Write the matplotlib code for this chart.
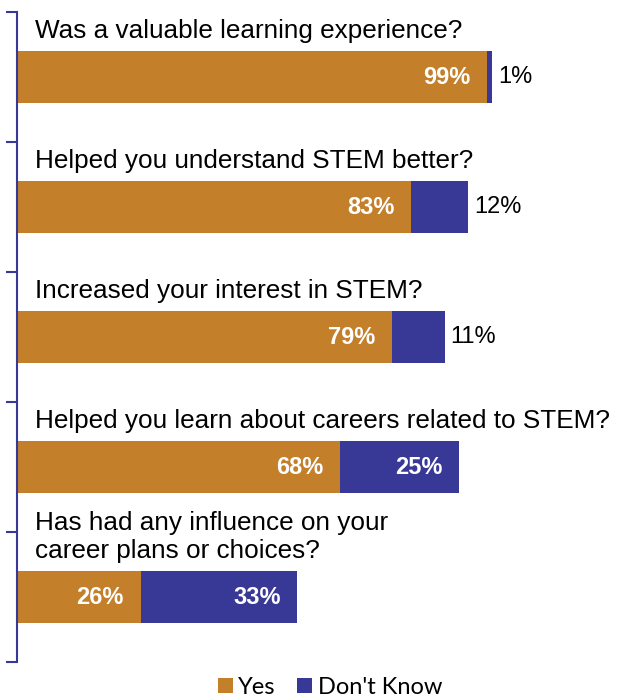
import matplotlib.pyplot as plt
import numpy as np

questions = ["Was a valuable learning experience?",
             "Helped you understand STEM better?",
             "Increased your interest in STEM?",
             "Helped you learn about careers related to STEM?",
             "Has had any influence on your\ncareer plans or choices?"]
yes = [99, 83, 79, 68, 26]
dont_know = [1, 12, 11, 25, 33]

orange = "#C47F2B"
navy = "#383896"

W, H = 618, 698
fig = plt.figure(figsize=(W / 100, H / 100), dpi=100)
# axes: x from px 17 to 617, y from px 12 to 662
ax = fig.add_axes([17 / W, 1 - 662 / H, 600 / W, 650 / H])
ax.set_xlim(0, 600 / 4.75)
ax.set_ylim(5, 0)

pos = np.arange(len(questions)) + 0.5
ax.barh(pos, yes, height=0.4, color=orange, label="Yes")
ax.barh(pos, dont_know, left=yes, height=0.4, color=navy, label="Don't Know")

font = "Liberation Sans"
for i, q in enumerate(questions):
    ax.text(3.8, pos[i] - 0.265, q, ha="left", va="bottom", fontsize=18.8,
            family=font, color="black", linespacing=1.2)
    ax.text(yes[i] - 3.5, pos[i], f"{yes[i]}%", ha="right", va="center",
            fontsize=17, fontweight="bold", color="white", family=font)
    if dont_know[i] < 15:
        ax.text(yes[i] + dont_know[i] + 1.3, pos[i], f"{dont_know[i]}%",
                ha="left", va="center", fontsize=17, color="black", family=font)
    else:
        ax.text(yes[i] + dont_know[i] - 3.5, pos[i], f"{dont_know[i]}%",
                ha="right", va="center", fontsize=17, fontweight="bold",
                color="white", family=font)

for s in ["top", "right", "bottom"]:
    ax.spines[s].set_visible(False)
ax.spines["left"].set_color(navy)
ax.spines["left"].set_linewidth(1.5)
ax.set_yticks(range(6))
ax.set_yticklabels([])
ax.tick_params(axis="y", length=8, width=1.5, color=navy)
ax.set_xticks([])

fig.legend(loc="center", bbox_to_anchor=(330 / W, 1 - 687 / H), ncol=2,
           frameon=False, prop={"family": "Lato", "size": 17},
           handlelength=0.62, handleheight=0.62, handletextpad=0.25,
           columnspacing=0.9, borderaxespad=0)

fig.savefig("out.png", dpi=100)
